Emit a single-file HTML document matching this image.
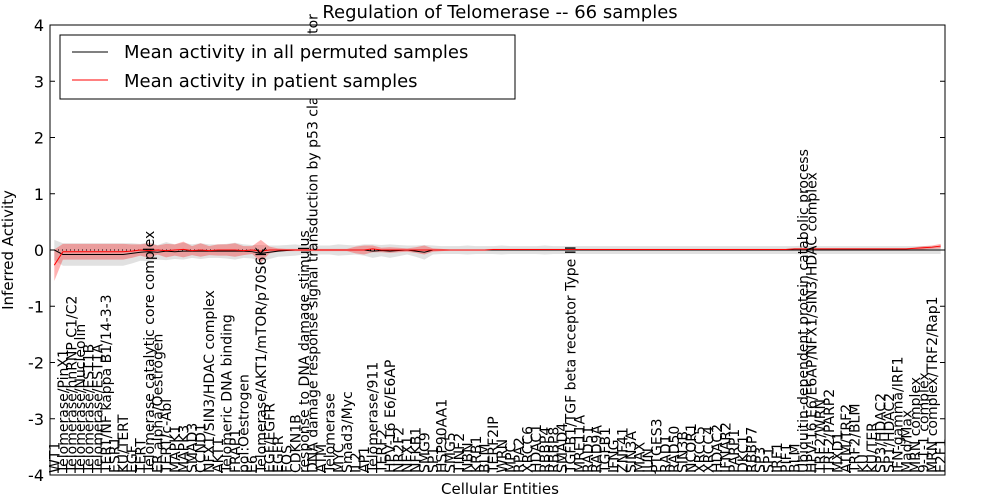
<!DOCTYPE html>
<html><head><meta charset="utf-8"><style>
body{margin:0;background:#fff}
svg{display:block;font-family:"DejaVu Sans","Liberation Sans",sans-serif}
</style></head><body>
<svg id="chart" width="1000" height="500">
<rect width="1000" height="500" fill="#fff"/>
<g id="bands"></g>
<g id="lines"></g>
<g id="xlabels"></g>
<rect x="50" y="25" width="895" height="450" fill="none" stroke="#000" stroke-width="1"/>
<g id="yticks"></g>
<text x="500" y="18" font-size="18" text-anchor="middle">Regulation of Telomerase -- 66 samples</text>
<text x="500" y="494" font-size="15" text-anchor="middle">Cellular Entities</text>
<text transform="translate(13,250) rotate(-90)" font-size="15" text-anchor="middle">Inferred Activity</text>
<g>
<rect x="60" y="35" width="455" height="64" fill="#fff" stroke="#000"/>
<line x1="72" y1="52" x2="108" y2="52" stroke="#000"/>
<text x="124" y="58" font-size="18">Mean activity in all permuted samples</text>
<line x1="72" y1="80" x2="108" y2="80" stroke="#f00"/>
<text x="124" y="87" font-size="18">Mean activity in patient samples</text>
</g>
</svg>
<script>
const categories=["WT1","Telomerase/PinX1","Telomerase/hnRNP C1/C2","Telomerase/Nucleolin","Telomerase/EST1B","Telomerase/EST1A","TERT/NF kappa B1/14-3-3","ESR1","KU/TERT","EGF","TERT","Telomerase catalytic core complex","ER alpha/Oestrogen","TERT/c-Abl","MAPK1","MAPK3","SMAD3","CCND1","NFX1/SIN3/HDAC complex","AKT1","Telomeric DNA binding","FRAP1","pol:Oestrogen","E6","Telomerase/AKT1/mTOR/p70S6K","EGF/EGFR","EGFR","FOS","CDKN1B","response to DNA damage stimulus","DNA damage response signal transduction by p53 class mediator","ATM","Telomerase","MYC","Smad3/Myc","IL2","AP1","Telomerase/911","TERF2","HPV-16 E6/E6AP","NR2F2","NFX1","NFKB1","SMG9","SP1","HSP90AA1","SMG5","TINF2","NBN","KRB1","BLM","TERF2IP","WRN","MPC","RPA2","XRCC6","HDAC1","RBBP4","RBBP8","SMAD4","TGFB1/TGF beta receptor Type II","MRE11A","RAD51","RAD9A","TGFB1","IFNG","ZNF41","SIN3A","MAX","JUN","PTGES3","RAD1","RAD50","SIN3B","NCOR1","XRCC5","XRCC4","HDAC2","IFNAR2","PARP1","DKC1","RBBP7","SP3","SP1","IRF1","PIF1","BLM","Ubiquitin-dependent protein catabolic process","HPV-16 E6/E6AP/NFX1/SIN3/HDAC complex","TRF2/WRN","TRF2/PARP2","MXD1","ATM/TRF2","TRF2/BLM","KU","KU/TER","SP3/HDAC2","SP1/HDAC2","IFN-gamma/IRF1","Mad/Max","MRN complex","9-1-1 complex","MRN complex/TRF2/Rap1","E2F1"];
const permMean=[0,-0.08,-0.08,-0.08,-0.08,-0.08,-0.08,-0.08,-0.08,-0.06,
-0.04,-0.03,-0.04,-0.02,-0.03,-0.02,-0.02,-0.02,-0.02,-0.02,
-0.02,-0.02,-0.02,-0.03,-0.06,-0.04,-0.02,-0.01,0,0,
0,0,0,0,0,0,0,-0.02,-0.01,-0.02,
-0.01,0,-0.02,-0.04,0,0,0,0,0,0,
0,0,0,0,0,0,0,0,0,0,
0,0,0,0,0,0,0,0,0,0,
0,0,0,0,0,0,0,0,0,0,
0,0,0,0,0,0,0,0,0,0,
0,0,0,0,0,0,0,0,0,0,
0,0,0,0];
const permSpread=[0.18,0.2,0.2,0.2,0.2,0.2,0.2,0.2,0.2,0.18,
0.15,0.17,0.13,0.16,0.13,0.15,0.12,0.14,0.12,0.12,
0.13,0.15,0.12,0.12,0.15,0.12,0.1,0.1,0.1,0.08,
0.08,0.08,0.08,0.1,0.09,0.08,0.1,0.12,0.1,0.12,
0.1,0.08,0.1,0.13,0.08,0.07,0.07,0.07,0.08,0.07,
0.07,0.07,0.08,0.07,0.07,0.07,0.07,0.08,0.07,0.07,
0.07,0.07,0.07,0.07,0.07,0.07,0.07,0.07,0.07,0.07,
0.07,0.07,0.07,0.07,0.07,0.07,0.07,0.07,0.07,0.07,
0.07,0.07,0.07,0.07,0.07,0.07,0.07,0.08,0.07,0.07,
0.07,0.07,0.07,0.07,0.07,0.07,0.07,0.07,0.07,0.07,
0.07,0.07,0.07,0.07];
const patMean=[-0.27,-0.03,-0.03,-0.03,-0.03,-0.03,-0.03,-0.03,-0.03,-0.02,
0,-0.01,0,-0.01,0,0.01,-0.01,0,-0.01,0,
0,0,-0.01,0,-0.02,0,0,0,0,0,
0,0,0,0,0,0,0,0.02,0,0,
0,0,0,0,0,0,0,0,0,0,
0,0.01,0.01,0.01,0.01,0.01,0.01,0.01,0.01,0.01,
0.01,0.01,0.01,0.01,0.01,0.01,0.01,0.01,0.01,0.01,
0.01,0.01,0.01,0.01,0.01,0.01,0.01,0.01,0.01,0.01,
0.01,0.01,0.01,0.01,0.01,0.01,0.02,0.02,0.02,0.02,
0.02,0.02,0.02,0.02,0.02,0.02,0.02,0.02,0.02,0.02,
0.03,0.04,0.05,0.07];
const patSpread=[0.28,0.14,0.14,0.14,0.14,0.14,0.14,0.14,0.14,0.12,
0.1,0.13,0.08,0.12,0.1,0.14,0.08,0.12,0.08,0.1,
0.1,0.12,0.08,0.07,0.2,0.06,0.03,0.02,0.02,0.02,
0.02,0.02,0.02,0.02,0.02,0.06,0.08,0.06,0.04,0.05,
0.04,0.03,0.05,0.08,0.03,0.02,0.01,0.01,0.01,0.01,
0.01,0.01,0.01,0.01,0.01,0.01,0.01,0.01,0.01,0.01,
0.01,0.01,0.01,0.01,0.01,0.01,0.01,0.01,0.01,0.01,
0.01,0.01,0.01,0.01,0.01,0.01,0.01,0.01,0.01,0.01,
0.01,0.01,0.01,0.01,0.01,0.01,0.01,0.01,0.01,0.01,
0.01,0.01,0.01,0.01,0.01,0.01,0.01,0.01,0.01,0.01,
0.02,0.03,0.03,0.04];
const yTicks=[-4,-3,-2,-1,0,1,2,3,4];
const NS="http://www.w3.org/2000/svg";
const n=categories.length;
function xs(i){return 50+(i+0.5)*895/n;}
function ys(v){return 250-v*56.25;}
function mk(t,a,p){const e=document.createElementNS(NS,t);for(const k in a)e.setAttribute(k,a[k]);p.appendChild(e);return e;}
const bands=document.getElementById('bands'),lines=document.getElementById('lines');
function band(mean,spr,fill,op,name){
  let up=mean.map((m,i)=>xs(i)+','+ys(m+spr[i])),dn=mean.map((m,i)=>xs(i)+','+ys(m-spr[i])).reverse();
  const p=mk('polygon',{points:up.concat(dn).join(' '),fill:fill,'fill-opacity':op},bands);
  
  
}
band(permMean,permSpread,'#aaa',0.35,'permuted-band');
band(patMean,patSpread,'#f00',0.3,'patient-band');
const z=mk('line',{x1:50,x2:945,y1:ys(0),y2:ys(0),stroke:'#000','stroke-dasharray':'1,3'},lines);


function line(mean,col,name){
  const p=mk('polyline',{points:mean.map((m,i)=>xs(i)+','+ys(m)).join(' '),fill:'none',stroke:col,'stroke-width':1},lines);
  
  
}
line(permMean,'#000','permuted-mean-line');
line(patMean,'#f00','patient-mean-line');
const xl=document.getElementById('xlabels');
categories.forEach((c,i)=>{
  const t=mk('text',{transform:`translate(${xs(i)+5},473) rotate(-90)`,'font-size':14},xl);
  t.textContent=c;
  
  
});
const yt=document.getElementById('yticks');
yTicks.forEach(v=>{
  mk('line',{x1:50,x2:55,y1:ys(v),y2:ys(v),stroke:'#000'},yt);
  mk('line',{x1:940,x2:945,y1:ys(v),y2:ys(v),stroke:'#000'},yt);
  const t=mk('text',{x:44,y:ys(v)+6,'font-size':16,'text-anchor':'end'},yt);
  t.textContent=v;
  
  
});
</script>
</body></html>
